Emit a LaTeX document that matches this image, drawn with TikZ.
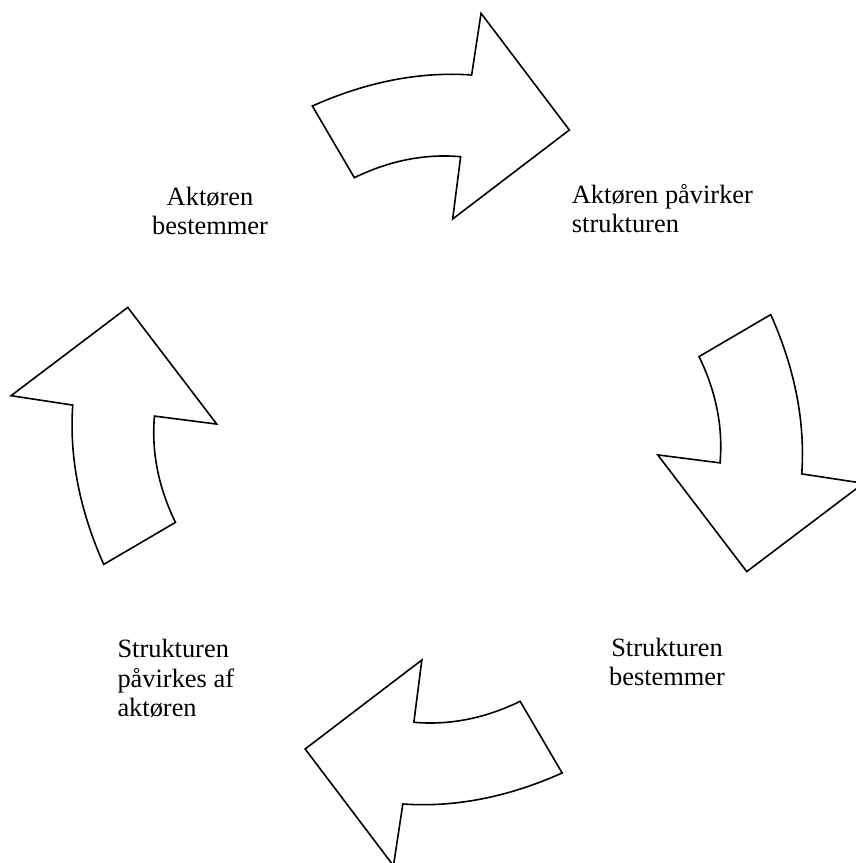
\documentclass[tikz,border=0pt]{standalone}
\usepackage{fontspec}
\setmainfont{Liberation Serif}
\begin{document}
\begin{tikzpicture}[x=1pt,y=1pt,
  arrowshape/.style={draw=black,fill=white,line width=1.6pt,line join=miter},
  lbl/.style={inner sep=0pt,font=\fontsize{26.4}{29.5}\selectfont},
  cyclearrow/.pic={
    \path[arrowshape] (-124.9,333.5) .. controls (-70.4,357.8) and (-17.3,368.1) .. (34.4,364.5)
      -- (43.8,426.2) -- (132.1,309.5) -- (15.4,220.5) -- (23.4,282.8)
      .. controls (-12.3,285.9) and (-47.8,278.9) .. (-82.9,261.8) -- cycle;
  }]
\useasboundingbox (0,0) rectangle (856,863);
\clip (0,0) rectangle (856,863);
\coordinate (C) at (437.25,423.5);
\pic at (C) {cyclearrow};
\pic[rotate=-90] at (C) {cyclearrow};
\pic[rotate=180] at (C) {cyclearrow};
\pic[rotate=90] at (C) {cyclearrow};
\node[lbl,align=center,anchor=base] (l1) at (210,628) {Aktøren\\bestemmer};
\node[lbl,align=left,anchor=base west] (l2) at (571.7,630) {Aktøren påvirker\\strukturen};
\node[lbl,align=left,anchor=base west] (l3) at (117.3,146) {Strukturen\\påvirkes af\\aktøren};
\node[lbl,align=center,anchor=base] (l4) at (667,177) {Strukturen\\bestemmer};
\end{tikzpicture}
\end{document}
